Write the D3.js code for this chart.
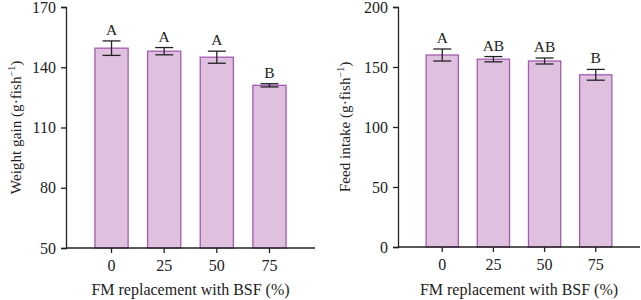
<!DOCTYPE html>
<html>
<head>
<meta charset="utf-8">
<script src="https://cdn.jsdelivr.net/npm/d3@7"></script>
<style>
  body { margin: 0; background: #fff; }
  svg text { font-family: "Liberation Serif", "DejaVu Serif", serif; fill: #222; }
</style>
</head>
<body>
<div id="chart"></div>
<script>
// data
var categories = ['0', '25', '50', '75'];
var weightGain = [149.5, 148, 145, 131];
var weightGainErr = [3.6, 1.8, 3, 0.8];
var weightGainLetters = ['A', 'A', 'A', 'B'];
var weightTicks = [50, 80, 110, 140, 170];

var feedIntake = [160, 156.5, 155, 143.5];
var feedIntakeErr = [5, 2.2, 2.5, 4.5];
var feedIntakeLetters = ['A', 'AB', 'AB', 'B'];
var feedTicks = [0, 50, 100, 150, 200];

var svg = d3.select('#chart')
  .append('svg')
  .attr('width', 641)
  .attr('height', 300);

drawPanel({
  left: 66, right: 315, top: 7, bottom: 248,
  values: weightGain, errs: weightGainErr, letters: weightGainLetters,
  domain: [50, 170], ticks: weightTicks,
  ylabel: 'Weight gain (g·fish', labelX: 21
});

drawPanel({
  left: 398, right: 640, top: 7, bottom: 247,
  values: feedIntake, errs: feedIntakeErr, letters: feedIntakeLetters,
  domain: [0, 200], ticks: feedTicks,
  ylabel: 'Feed intake (g·fish', labelX: 350
});

function drawPanel(p) {
  var g = svg.append('g');

  var x = d3.scaleBand()
    .domain(categories)
    .range([p.left, p.right])
    .paddingInner(0.37)
    .paddingOuter(0.55);

  var y = d3.scaleLinear()
    .domain(p.domain)
    .range([p.bottom, p.top]);

  // bars
  g.selectAll('rect.bar')
    .data(p.values)
    .enter()
    .append('rect')
    .attr('class', 'bar')
    .attr('x', (d, i) => x(categories[i]))
    .attr('y', d => y(d))
    .attr('width', x.bandwidth())
    .attr('height', d => p.bottom - y(d))
    .style('fill', '#dfc0de')
    .style('stroke', '#a45bb2')
    .style('stroke-width', 1.3);

  // error bars
  var capW = 9;
  var eb = g.selectAll('g.err')
    .data(p.values)
    .enter()
    .append('g')
    .attr('class', 'err')
    .style('stroke', '#222')
    .style('stroke-width', 1.3);

  eb.append('line')
    .attr('x1', (d, i) => x(categories[i]) + x.bandwidth() / 2)
    .attr('x2', (d, i) => x(categories[i]) + x.bandwidth() / 2)
    .attr('y1', (d, i) => y(d + p.errs[i]))
    .attr('y2', (d, i) => y(d - p.errs[i]));

  eb.append('line')
    .attr('x1', (d, i) => x(categories[i]) + x.bandwidth() / 2 - capW)
    .attr('x2', (d, i) => x(categories[i]) + x.bandwidth() / 2 + capW)
    .attr('y1', (d, i) => y(d + p.errs[i]))
    .attr('y2', (d, i) => y(d + p.errs[i]));

  eb.append('line')
    .attr('x1', (d, i) => x(categories[i]) + x.bandwidth() / 2 - capW)
    .attr('x2', (d, i) => x(categories[i]) + x.bandwidth() / 2 + capW)
    .attr('y1', (d, i) => y(d - p.errs[i]))
    .attr('y2', (d, i) => y(d - p.errs[i]));

  // significance letters
  g.selectAll('text.letter')
    .data(p.values)
    .enter()
    .append('text')
    .attr('class', 'letter')
    .attr('x', (d, i) => x(categories[i]) + x.bandwidth() / 2)
    .attr('y', (d, i) => y(d + p.errs[i]) - 6)
    .attr('text-anchor', 'middle')
    .style('font-size', '15.5px')
    .text((d, i) => p.letters[i]);

  // axes
  var yAxis = g.append('g')
    .attr('transform', 'translate(' + p.left + ',0)')
    .call(d3.axisLeft(y).tickValues(p.ticks).tickSize(5).tickPadding(5));

  var xAxis = g.append('g')
    .attr('transform', 'translate(0,' + p.bottom + ')')
    .call(d3.axisBottom(x).tickSize(5).tickPadding(7));

  [yAxis, xAxis].forEach(function(a) {
    a.select('.domain').style('stroke', '#222').style('stroke-width', 1.3);
    a.selectAll('.tick line').style('stroke', '#222').style('stroke-width', 1.3);
    a.selectAll('.tick text')
      .style('font-family', '"Liberation Serif", "DejaVu Serif", serif')
      .style('font-size', '16px')
      .style('fill', '#222');
  });
  xAxis.select('.domain').attr('d', 'M' + p.left + ',0H' + p.right);

  // axis titles
  g.append('text')
    .attr('x', (p.left + p.right) / 2)
    .attr('y', 295)
    .attr('text-anchor', 'middle')
    .style('font-size', '16px')
    .text('FM replacement with BSF (%)');

  var yl = g.append('text')
    .attr('transform', 'translate(' + p.labelX + ',' + ((p.top + p.bottom) / 2) + ') rotate(-90)')
    .attr('text-anchor', 'middle')
    .style('font-size', '15.2px');
  yl.append('tspan').text(p.ylabel);
  yl.append('tspan').attr('dy', -6).style('font-size', '10px').text('−1');
  yl.append('tspan').attr('dy', 6).text(')');
}
</script>
</body>
</html>
